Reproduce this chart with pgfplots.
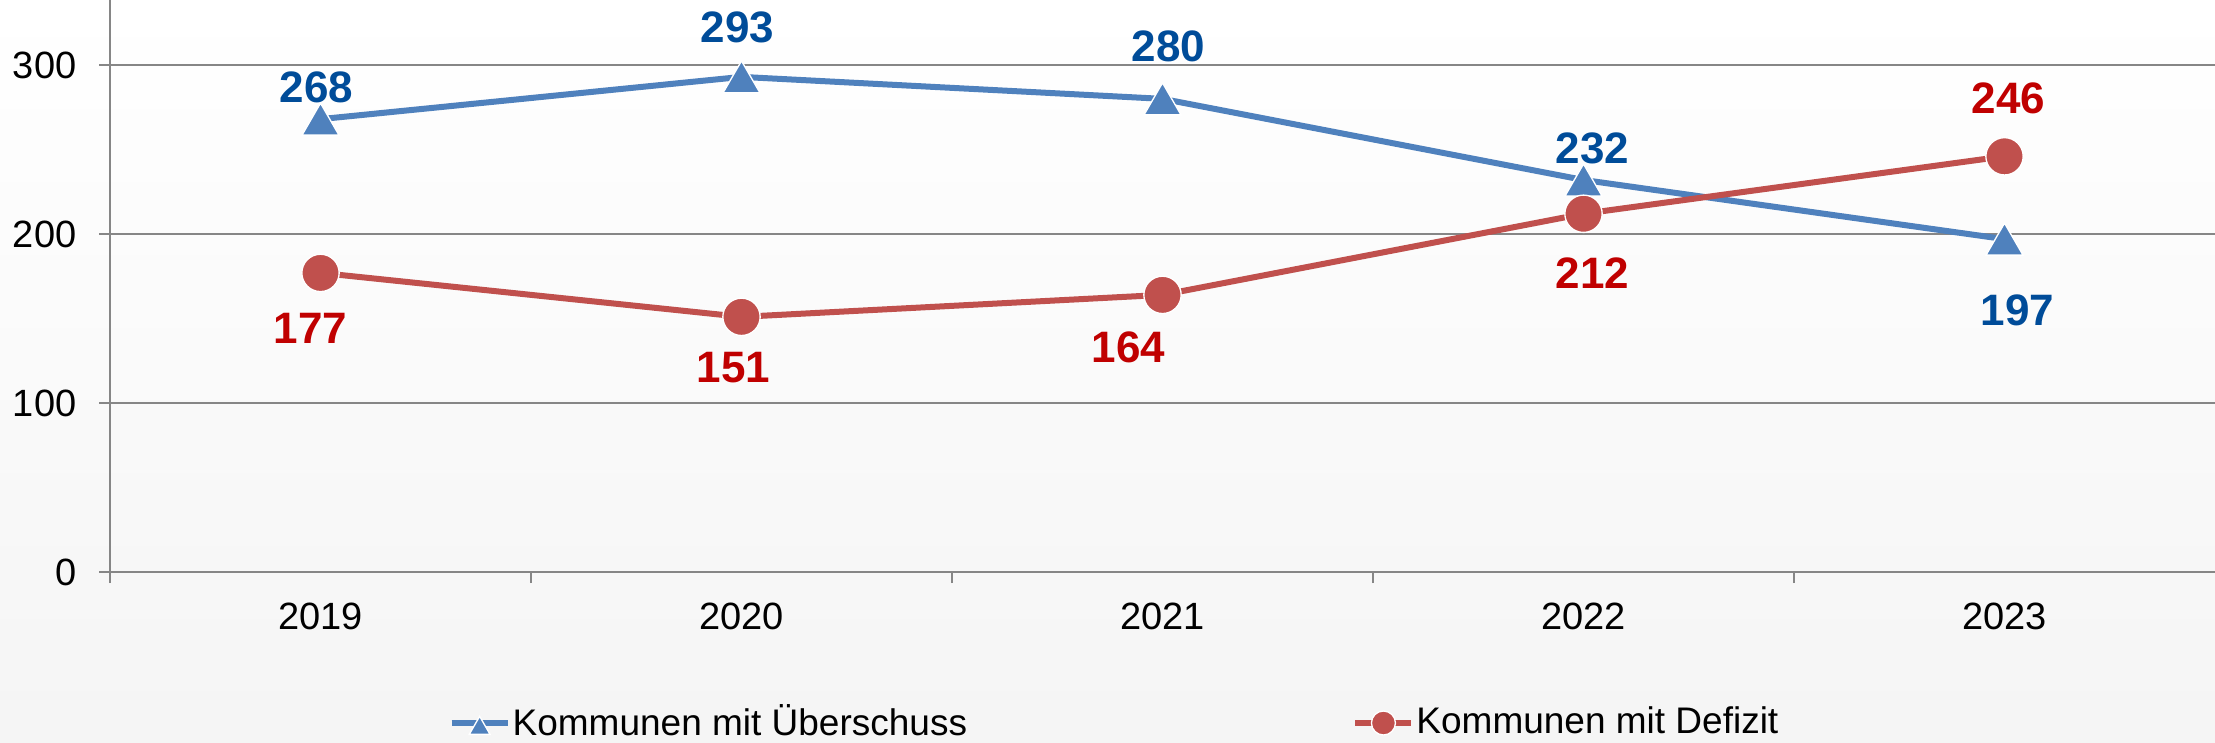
\documentclass[border=0pt]{standalone}
\usepackage{fontspec}
\setmainfont{Liberation Sans}
\usepackage{pgfplots}
\pgfplotsset{compat=1.18}
\usepackage{pgfplotstable}
\usetikzlibrary{backgrounds,calc}
\definecolor{lineblue}{RGB}{79,129,189}
\definecolor{linered}{RGB}{192,80,77}
\definecolor{labblue}{RGB}{0,76,153}
\definecolor{labred}{RGB}{192,0,0}
\definecolor{gridgray}{RGB}{134,134,134}

\pgfplotstableread{
x y dx dy
0 268 -1.2 11.1
1 293 -1.2 16.6
2 280 1.8 17.25
3 232 2.7 11.1
4 197 3.9 -19.8
}\ueber
\pgfplotstableread{
x y dx dy
0 177 -3 -16.5
1 151 -2.4 -15.3
2 164 -10.2 -15.6
3 212 2.7 -17.7
4 246 1.2 17.4
}\defizit

\begin{document}
\begin{tikzpicture}
\begin{axis}[name=ax, at={(0,0)}, anchor=south west,
  scale only axis, width=631.5pt, height=171.6pt,
  xmin=-0.5, xmax=4.5, ymin=0, ymax=338.5,
  axis x line*=bottom, axis y line*=left,
  axis line style={gridgray, line width=0.6pt},
  xtick={0,1,2,3,4}, xticklabels={2019,2020,2021,2022,2023},
  major x tick style={draw=none},
  minor xtick={-0.5,0.5,1.5,2.5,3.5},
  major tick length=3.3pt, minor tick length=3.3pt,
  tick align=outside,
  ytick={0,100,200,300},
  ymajorgrids, grid style={gridgray, line width=0.6pt},
  tick style={gridgray, line width=0.6pt},
  tick label style={font=\fontsize{11.4}{12}\selectfont, black},
  /pgf/number format/assume math mode=true,
  xticklabel style={anchor=north, inner sep=0pt, yshift=-5.7pt},
  yticklabel style={anchor=east, inner sep=0pt, xshift=-6.6pt},
  clip=false,
  legend columns=2,
  legend style={at={(axis description cs:0.5,0)}, anchor=center, xshift=-14.4pt, yshift=-45.3pt,
    draw=none, fill=none, font=\fontsize{11.1}{12}\selectfont,
    nodes={inner sep=0.6pt},
    /tikz/every even column/.append style={column sep=115pt}},
  legend image code/.code={\draw[mark repeat=2, mark phase=2, #1, mark size=3.6pt] plot coordinates {(0pt,0pt) (8.4pt,0pt) (16.8pt,0pt)};},
  nodes near coords,
  visualization depends on={\thisrow{dx} \as \dx},
  visualization depends on={\thisrow{dy} \as \dy},
]
\addplot[lineblue, line width=1.8pt, mark=triangle*, mark size=6.4pt,
  mark options={fill=lineblue, draw=white, line width=0.4pt, yshift=-1.6pt},
  every node near coord/.append style={anchor=center, xshift=\dx, yshift=\dy,
    font=\fontsize{13.2}{14}\selectfont\bfseries, text=labblue}]
  table[x=x, y=y] {\ueber};
\addlegendentry{Kommunen mit Überschuss}
\addplot[linered, line width=1.8pt, mark=*, mark size=5.6pt,
  mark options={fill=linered, draw=white, line width=0.4pt},
  every node near coord/.append style={anchor=center, xshift=\dx, yshift=\dy,
    font=\fontsize{13.2}{14}\selectfont\bfseries, text=labred}]
  table[x=x, y=y] {\defizit};
\addlegendentry{Kommunen mit Defizit}
\end{axis}
\begin{pgfonlayer}{background}
\shade[top color=white, bottom color=black!4] ($(ax.south west)+(-33pt,-51pt)$) rectangle (ax.north east);
\end{pgfonlayer}
\pgfresetboundingbox
\path ($(ax.south west)+(-33pt,-51pt)$) rectangle (ax.north east);
\end{tikzpicture}
\end{document}
